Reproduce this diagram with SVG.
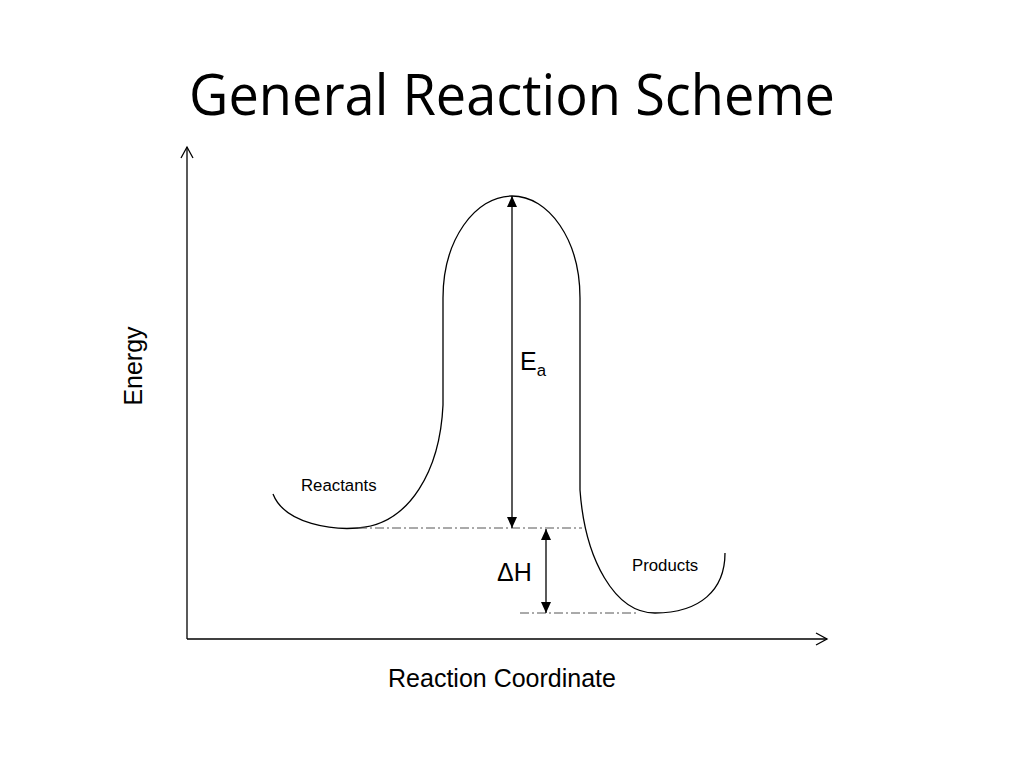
<svg xmlns="http://www.w3.org/2000/svg" width="1024" height="768" viewBox="0 0 1024 768">
<defs>
<marker id="open" markerWidth="14" markerHeight="14" refX="12" refY="7" orient="auto" markerUnits="userSpaceOnUse">
<path d="M1,1 L12,7 L1,13" fill="none" stroke="#000" stroke-width="1.3"/>
</marker>
<marker id="solid" markerWidth="12" markerHeight="12" refX="11" refY="5" orient="auto-start-reverse" markerUnits="userSpaceOnUse">
<path d="M0,0 L11,5 L0,10 Z" fill="#000"/>
</marker>
<style>
.ln{fill:none;stroke:#000;stroke-width:1.3}
.dash{fill:none;stroke:#555;stroke-width:1;stroke-dasharray:9,3,2,3}
.t{font-family:"Liberation Sans",Arial,sans-serif;fill:#000}
</style>
</defs>
<rect width="1024" height="768" fill="#fff"/>
<text class="t" x="512" y="115" font-size="56" text-anchor="middle" style="font-family:'Open Sans','Liberation Sans',sans-serif" textLength="646" lengthAdjust="spacingAndGlyphs">General Reaction Scheme</text>
<g id="axes">
<line class="ln" x1="187" y1="639" x2="187" y2="147" marker-end="url(#open)"/>
<line class="ln" x1="187" y1="639" x2="827" y2="639" marker-end="url(#open)"/>
</g>
<g id="curve">
<path class="ln" d="M273,494 C285,525 335,530 358,528 C410,524 440,470 443,405 L443,298 C443,240 475,196 512,196 C549,196 580,240 580,298 L580,490 C585,560 615,613 655,613 C700,613 725,590 725,553"/>
</g>
<g id="connectors">
<line class="dash" x1="358" y1="528" x2="582" y2="528"/>
<line class="dash" x1="520" y1="613" x2="638" y2="613"/>
<line class="ln" x1="512" y1="528" x2="512" y2="196" stroke-width="1.6" marker-start="url(#solid)" marker-end="url(#solid)"/>
<line class="ln" x1="546" y1="529" x2="546" y2="613" stroke-width="1.6" marker-start="url(#solid)" marker-end="url(#solid)"/>
</g>
<g id="labels">
<text class="t" x="142" y="366" font-size="25" text-anchor="middle" transform="rotate(-90 142 366)">Energy</text>
<text class="t" x="502" y="687" font-size="25" text-anchor="middle">Reaction Coordinate</text>
<text class="t" x="301" y="491" font-size="16.8">Reactants</text>
<text class="t" x="632" y="571" font-size="16.8">Products</text>
<text class="t" x="520" y="370" font-size="25">E<tspan font-size="16.8" dy="6">a</tspan></text>
<text class="t" x="497" y="581" font-size="25">ΔH</text>
</g>
</svg>
